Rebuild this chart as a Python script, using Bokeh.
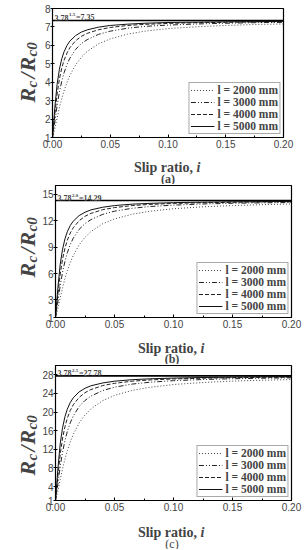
from math import pi
from bokeh.plotting import figure
from bokeh.models import (Label, Span, Legend, LegendItem, FixedTicker,
                          PrintfTickFormatter, Range1d)
from bokeh.layouts import column, row
from bokeh.embed import file_html
from bokeh.resources import INLINE

# ---------------- data ----------------
slip = [0, 0.002, 0.004, 0.006, 0.008, 0.01, 0.0125, 0.015, 0.02, 0.025, 0.03,
        0.04, 0.05, 0.065, 0.08, 0.1, 0.125, 0.15, 0.175, 0.2]
series_labels = ["l = 2000 mm", "l = 3000 mm", "l = 4000 mm", "l = 5000 mm"]

a_2000 = [1.00, 1.48, 2.07, 2.62, 3.11, 3.53, 3.98, 4.36, 4.94, 5.36, 5.67, 6.09, 6.35, 6.61, 6.77, 6.91, 7.01, 7.08, 7.13, 7.16]
a_3000 = [1.00, 1.84, 2.73, 3.47, 4.05, 4.51, 4.96, 5.30, 5.78, 6.10, 6.31, 6.60, 6.77, 6.93, 7.03, 7.10, 7.16, 7.20, 7.23, 7.25]
a_4000 = [1.00, 2.23, 3.36, 4.18, 4.76, 5.19, 5.58, 5.87, 6.25, 6.49, 6.65, 6.85, 6.97, 7.08, 7.14, 7.19, 7.23, 7.25, 7.27, 7.28]
a_5000 = [1.00, 2.61, 3.89, 4.71, 5.27, 5.65, 5.99, 6.23, 6.53, 6.72, 6.84, 6.99, 7.08, 7.15, 7.20, 7.24, 7.26, 7.28, 7.29, 7.30]

b_2000 = [1.00, 2.01, 3.23, 4.39, 5.41, 6.30, 7.25, 8.03, 9.25, 10.12, 10.77, 11.65, 12.20, 12.74, 13.07, 13.36, 13.58, 13.72, 13.82, 13.90]
b_3000 = [1.00, 2.75, 4.63, 6.17, 7.38, 8.35, 9.28, 10.00, 11.01, 11.67, 12.12, 12.72, 13.08, 13.41, 13.61, 13.77, 13.90, 13.98, 14.03, 14.07]
b_4000 = [1.00, 3.56, 5.93, 7.65, 8.87, 9.77, 10.60, 11.19, 11.99, 12.50, 12.83, 13.25, 13.49, 13.72, 13.85, 13.96, 14.04, 14.09, 14.13, 14.15]
b_5000 = [1.00, 4.36, 7.05, 8.77, 9.93, 10.74, 11.45, 11.94, 12.58, 12.96, 13.23, 13.53, 13.72, 13.88, 13.97, 14.05, 14.11, 14.15, 14.17, 14.19]

c_2000 = [1.00, 3.03, 5.50, 7.83, 9.89, 11.69, 13.59, 15.17, 17.63, 19.37, 20.68, 22.45, 23.58, 24.65, 25.32, 25.91, 26.35, 26.64, 26.84, 26.98]
c_3000 = [1.00, 4.53, 8.31, 11.42, 13.85, 15.81, 17.68, 19.13, 21.17, 22.50, 23.42, 24.62, 25.34, 26.01, 26.41, 26.74, 26.99, 27.15, 27.27, 27.35]
c_4000 = [1.00, 6.17, 10.94, 14.39, 16.85, 18.67, 20.34, 21.54, 23.15, 24.16, 24.83, 25.69, 26.17, 26.63, 26.90, 27.11, 27.27, 27.38, 27.45, 27.50]
c_5000 = [1.00, 7.78, 13.19, 16.67, 19.00, 20.63, 22.05, 23.04, 24.33, 25.10, 25.64, 26.25, 26.63, 26.95, 27.14, 27.30, 27.42, 27.49, 27.55, 27.58]

limit_base = "3.78"
limit_exponents = ["1.5", "2.0", "2.5"]
limit_values = [7.35, 14.29, 27.78]
captions = ["(a)", "(b)", "(c)"]

x_ticks = [0.0, 0.05, 0.10, 0.15, 0.20]
x_minor = [0.025, 0.075, 0.125, 0.175]
y_ticks_a = [1, 2, 3, 4, 5, 6, 7, 8]
y_ticks_b = [1, 3, 6, 9, 12, 15]
y_ticks_c = [1, 4, 8, 12, 16, 20, 24, 28]

# ---------------- styling ----------------
SERIF = "Liberation Serif"
SANS = "Liberation Sans"
dashes = ["1 2", "5 2 1 2 1 2", "4 2", "solid"]
line_colors = ["#444444", "#222222", "#222222", "#111111"]

W = 305
YLAB_W = 39
FRAME_LEFT = 52


def text_fig(width, height):
    f = figure(width=width, height=height, output_backend="svg", toolbar_location=None,
               x_range=Range1d(0, 1), y_range=Range1d(0, 1),
               x_axis_location=None, y_axis_location=None,
               min_border=0, min_border_left=0, min_border_right=0,
               min_border_top=0, min_border_bottom=0)
    f.grid.visible = False
    f.outline_line_color = None
    return f


def panel(series, y_end, y_ticks, limit, exponent, caption, main_h, b_top, b_right,
          ylab_start, xl_h, xl_base, cap_base, caption_bold):
    mw = W - YLAB_W
    p = figure(width=mw, height=main_h, output_backend="svg", toolbar_location=None,
               x_range=Range1d(0, 0.2), y_range=Range1d(1, y_end),
               min_border_left=FRAME_LEFT - YLAB_W, min_border_right=b_right,
               min_border_top=b_top, min_border_bottom=13)
    p.grid.visible = False
    p.outline_line_color = "black"
    p.outline_line_width = 1.2

    xa = p.xaxis[0]
    xa.ticker = FixedTicker(ticks=x_ticks, minor_ticks=x_minor)
    xa.formatter = PrintfTickFormatter(format="%.2f")
    xa.major_tick_in = 3
    xa.major_tick_out = 0
    xa.minor_tick_in = 2
    xa.minor_tick_out = 0
    xa.major_label_standoff = 2

    ya = p.yaxis[0]
    ya.ticker = FixedTicker(ticks=y_ticks, minor_ticks=[])
    ya.major_tick_in = 2
    ya.major_tick_out = 2
    ya.major_label_standoff = 0

    for ax in (xa, ya):
        ax.axis_line_color = "black"
        ax.major_tick_line_color = "black"
        ax.minor_tick_line_color = "black"
        ax.major_label_text_font = SANS
        ax.major_label_text_font_size = "10px"
        ax.major_label_text_color = "#444444"

    items = []
    for vals, lab, dash, col in zip(series, series_labels, dashes, line_colors):
        r = p.line(slip, vals, line_color=col, line_width=1, line_dash=dash)
        items.append(LegendItem(label=lab, renderers=[r]))

    p.add_layout(Span(location=limit, dimension="width", line_color="black", line_width=1.6))

    legend = Legend(items=items, location="bottom_right", margin=3, padding=1,
                    spacing=0, glyph_width=24, glyph_height=10, label_height=10,
                    label_standoff=3, label_text_font=SERIF, label_text_font_style="bold",
                    label_text_font_size="11.5px",
                    border_line_color="#555555",
                    border_line_width=1, background_fill_alpha=1)
    p.add_layout(legend, "center")

    # limit annotation 3.78^n = M
    p.add_layout(Label(x=2, y=limit, x_units="screen", y_units="data", y_offset=2.5,
                       text=limit_base, text_font=SERIF, text_font_style="bold",
                       text_font_size="8px", text_baseline="alphabetic"))
    p.add_layout(Label(x=16.5, y=limit, x_units="screen", y_units="data", y_offset=5.5,
                       text=exponent, text_font=SERIF, text_font_style="bold",
                       text_font_size="5px", text_baseline="alphabetic"))
    p.add_layout(Label(x=23.5, y=limit, x_units="screen", y_units="data", y_offset=2.5,
                       text="=" + f"{limit:.2f}", text_font=SERIF, text_font_style="bold",
                       text_font_size="8px", text_baseline="alphabetic"))

    # y axis label figure: R_c /R_c0 (rotated)
    yl = text_fig(YLAB_W, main_h)
    big, small = "22px", "15px"
    parts = [("R", big, 27, 0), ("c", small, 31, 15), ("/", big, 27, 24),
             ("R", big, 27, 31), ("c0", small, 31, 46)]
    for txt, fs, xx, dy in parts:
        yl.add_layout(Label(x=xx, y=ylab_start + dy, x_units="screen", y_units="screen",
                            text=txt, text_font=SERIF, text_font_style="bold italic",
                            text_font_size=fs, angle=pi / 2, text_align="left",
                            text_baseline="alphabetic"))

    # x label + caption figure
    xl = text_fig(W, xl_h)
    cx = (FRAME_LEFT + (W - b_right)) / 2
    xl.add_layout(Label(x=cx + 25.0, y=xl_base, x_units="screen", y_units="screen",
                        text="Slip ratio,", text_font=SERIF, text_font_style="bold",
                        text_font_size="14px", text_align="right", text_baseline="alphabetic"))
    xl.add_layout(Label(x=cx + 28.5, y=xl_base, x_units="screen", y_units="screen",
                        text="i", text_font=SERIF, text_font_style="bold italic",
                        text_font_size="14px", text_align="left", text_baseline="alphabetic"))
    xl.add_layout(Label(x=cx, y=cap_base, x_units="screen", y_units="screen",
                        text=caption, text_font=SERIF,
                        text_font_style="bold" if caption_bold else "normal",
                        text_font_size="12px", text_align="center", text_baseline="alphabetic"))

    return column(row(yl, p, spacing=0), xl, spacing=0)


pa = panel([a_2000, a_3000, a_4000, a_5000], 8, y_ticks_a, limit_values[0],
           limit_exponents[0], captions[0], 150, 8, 22, 35, 34, 17, 6, True)
pb = panel([b_2000, b_3000, b_4000, b_5000], 16, y_ticks_b, limit_values[1],
           limit_exponents[1], captions[1], 146, 1, 14, 40, 34, 16, 6, True)
pc = panel([c_2000, c_3000, c_4000, c_5000], 30, y_ticks_c, limit_values[2],
           limit_exponents[2], captions[2], 149, 1, 14, 25, 36, 17, 6, False)

layout = column(pa, pb, pc, spacing=0)
open("out.html", "w").write(file_html(layout, INLINE))
